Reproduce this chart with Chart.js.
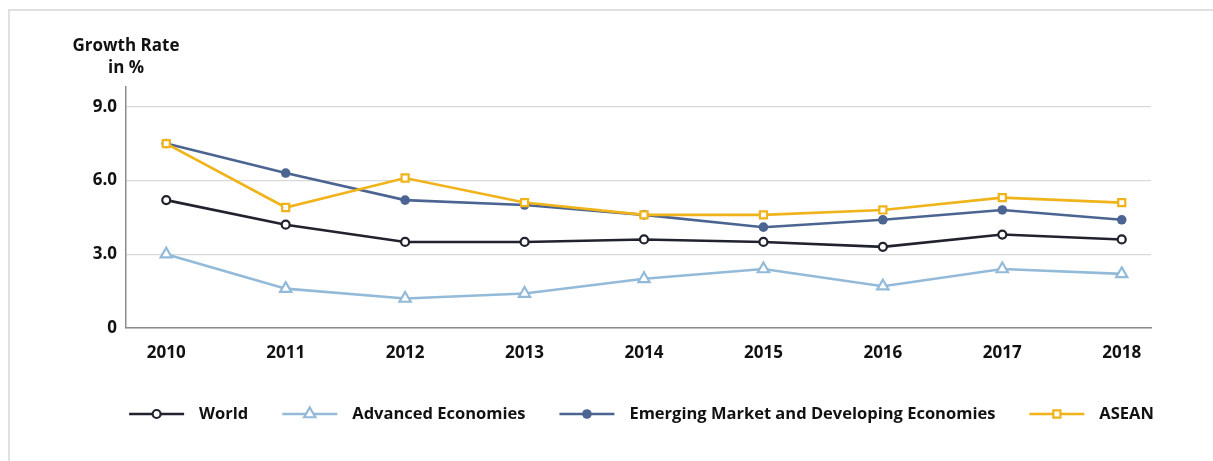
<!DOCTYPE html>
<html>
<head>
<meta charset="utf-8">
<script src="https://cdn.jsdelivr.net/npm/chart.js@4/dist/chart.umd.min.js"></script>
<style>
  html, body { margin: 0; padding: 0; background: #fff; }
  #wrap { position: relative; width: 1213px; height: 461px; overflow: hidden; }
  #frame { position: absolute; left: 8px; top: 9px; width: 1300px; height: 600px;
           border-top: 2px solid #e0e0e0; border-left: 2px solid #e0e0e0; }
  #growth { position: absolute; left: 0; top: 0; }
</style>
</head>
<body>
<div id="wrap">
  <div id="frame"></div>
  <canvas id="growth" width="1213" height="461"></canvas>
</div>
<script>
const years = [2010, 2011, 2012, 2013, 2014, 2015, 2016, 2017, 2018];
const world = [5.2, 4.2, 3.5, 3.5, 3.6, 3.5, 3.3, 3.8, 3.6];
const advanced = [3.0, 1.6, 1.2, 1.4, 2.0, 2.4, 1.7, 2.4, 2.2];
const emerging = [7.5, 6.3, 5.2, 5.0, 4.6, 4.1, 4.4, 4.8, 4.4];
const asean = [7.5, 4.9, 6.1, 5.1, 4.6, 4.6, 4.8, 5.3, 5.1];
const yTicks = [0, 3, 6, 9];
const yTitle = ['Growth Rate', 'in %'];

const FONT = '"Open Sans", "Noto Sans", sans-serif';
Chart.defaults.font.family = FONT;
Chart.defaults.font.size = 17;
Chart.defaults.font.weight = 'bold';
Chart.defaults.color = '#111';

const points = vals => vals.map((v, i) => ({x: years[i], y: v}));

// axis title sitting above the y axis line
const axisTitle = {
  id: 'axisTitle',
  afterDraw(chart) {
    const ctx = chart.ctx;
    const x = chart.scales.y.right;
    const top = chart.chartArea.top;
    ctx.save();
    ctx.font = 'bold 17px ' + FONT;
    ctx.fillStyle = '#111';
    ctx.textAlign = 'center';
    ctx.textBaseline = 'middle';
    ctx.fillText(yTitle[0], x, top - 41);
    ctx.fillText(yTitle[1], x, top - 19);
    ctx.restore();
  }
};

function marker(ctx, ds, x, y) {
  const r = ds.pointRadius;
  ctx.save();
  ctx.fillStyle = ds.pointBackgroundColor;
  ctx.strokeStyle = ds.borderColor;
  ctx.lineWidth = ds.pointBorderWidth;
  ctx.beginPath();
  if (ds.pointStyle === 'triangle') {
    ctx.moveTo(x, y - r);
    ctx.lineTo(x + r * Math.sin(Math.PI * 2 / 3), y + r / 2);
    ctx.lineTo(x - r * Math.sin(Math.PI * 2 / 3), y + r / 2);
    ctx.closePath();
  } else if (ds.pointStyle === 'rect') {
    const s = r * Math.SQRT1_2;
    ctx.rect(x - s, y - s, 2 * s, 2 * s);
  } else {
    ctx.arc(x, y, r, 0, Math.PI * 2);
  }
  ctx.fill();
  if (ds.pointBorderWidth) ctx.stroke();
  ctx.restore();
}

// legend: line sample with marker in the middle, then label
const lineLegend = {
  id: 'lineLegend',
  afterDraw(chart, args, opts) {
    const ctx = chart.ctx;
    const area = chart.chartArea;
    const sets = chart.data.datasets;
    ctx.save();
    ctx.font = 'bold 16.5px ' + FONT;
    const widths = sets.map(ds => ctx.measureText(ds.label).width);
    let total = opts.itemGap * (sets.length - 1);
    widths.forEach(w => { total += opts.lineLength + opts.textGap + w; });
    let x = (area.left + area.right) / 2 - total / 2 + opts.shift;
    const y = area.bottom + opts.offsetY;
    sets.forEach((ds, i) => {
      ctx.strokeStyle = ds.borderColor;
      ctx.lineWidth = ds.borderWidth;
      ctx.beginPath();
      ctx.moveTo(x, y);
      ctx.lineTo(x + opts.lineLength, y);
      ctx.stroke();
      marker(ctx, ds, x + opts.lineLength / 2, y);
      x += opts.lineLength + opts.textGap;
      ctx.fillStyle = '#111';
      ctx.textAlign = 'left';
      ctx.textBaseline = 'middle';
      ctx.fillText(ds.label, x, y);
      x += widths[i] + opts.itemGap;
    });
    ctx.restore();
  }
};

new Chart(document.getElementById('growth'), {
  type: 'line',
  data: {
    datasets: [
      {
        label: 'World',
        data: points(world),
        borderColor: '#20222e',
        borderWidth: 2.6,
        pointStyle: 'circle',
        pointRadius: 4,
        pointBorderWidth: 2.2,
        pointBackgroundColor: '#fff',
        order: 2
      },
      {
        label: 'Advanced Economies',
        data: points(advanced),
        borderColor: '#93bad8',
        borderWidth: 2.6,
        pointStyle: 'triangle',
        pointRadius: 6.5,
        pointBorderWidth: 2.2,
        pointBackgroundColor: '#fff',
        order: 3
      },
      {
        label: 'Emerging Market and Developing Economies',
        data: points(emerging),
        borderColor: '#4b6491',
        borderWidth: 2.6,
        pointStyle: 'circle',
        pointRadius: 4.8,
        pointBorderWidth: 0,
        pointBackgroundColor: '#4b6491',
        order: 1
      },
      {
        label: 'ASEAN',
        data: points(asean),
        borderColor: '#f0b31a',
        borderWidth: 2.6,
        pointStyle: 'rect',
        pointRadius: 5,
        pointBorderWidth: 2.2,
        pointBackgroundColor: '#fff',
        order: 0
      }
    ]
  },
  options: {
    responsive: false,
    animation: false,
    devicePixelRatio: 1,
    layout: { padding: { top: 87, left: 86, right: 62, bottom: 88 } },
    elements: { line: { tension: 0 } },
    scales: {
      x: {
        type: 'linear',
        min: 2009.663,
        max: 2018.245,
        afterFit: s => { s.height = 45; },
        grid: { display: false },
        border: { display: true, color: '#8b8b8b', width: 1.5 },
        ticks: {
          stepSize: 1,
          includeBounds: false,
          padding: 7,
          autoSkip: false,
          maxRotation: 0,
          callback: v => (years.includes(v) ? String(v) : '')
        }
      },
      y: {
        min: 0,
        max: 9.8,
        afterFit: s => { s.width = 40; },
        grid: { color: '#d9d9d9', lineWidth: 1.3, drawTicks: false },
        border: { display: true, color: '#8b8b8b', width: 1.5 },
        afterBuildTicks: s => { s.ticks = yTicks.map(v => ({value: v})); },
        ticks: {
          padding: 9,
          callback: v => (v === 0 ? '0' : v.toFixed(1))
        }
      }
    },
    plugins: {
      legend: { display: false },
      tooltip: { enabled: false },
      lineLegend: { lineLength: 55, textGap: 15, itemGap: 34, offsetY: 86, shift: 3 }
    }
  },
  plugins: [axisTitle, lineLegend]
});
</script>
</body>
</html>
